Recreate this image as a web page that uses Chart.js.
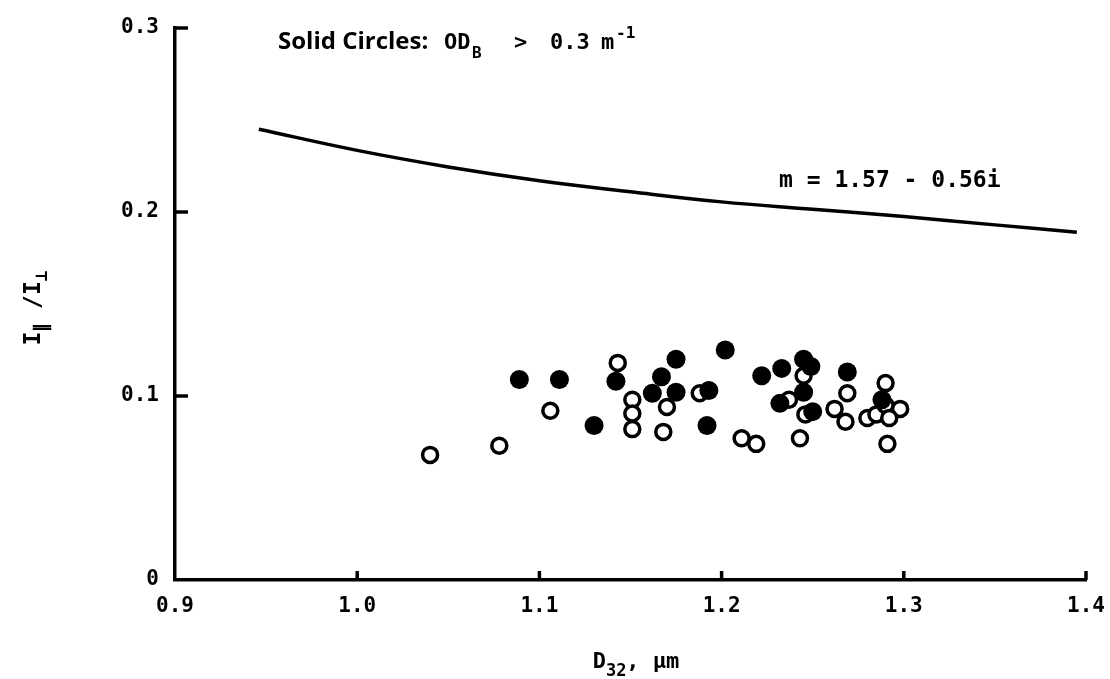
<!DOCTYPE html>
<html>
<head>
<meta charset="utf-8">
<script src="https://cdn.jsdelivr.net/npm/chart.js@4/dist/chart.umd.min.js"></script>
<style>
  html, body { margin: 0; padding: 0; background: #fff; }
  #wrap { width: 1110px; height: 679px; position: relative; }
</style>
</head>
<body>
<div id="wrap"><canvas id="chart" width="1110" height="679"></canvas></div>
<script>
// Polarization ratio vs. Sauter mean diameter

// axis ticks
const xTicks = [0.9, 1.0, 1.1, 1.2, 1.3, 1.4];
const yTicks = [0, 0.1, 0.2, 0.3];

// theory curve, m = 1.57 - 0.56i
const curveX = [0.946, 1.0, 1.05, 1.1, 1.15, 1.2, 1.25, 1.3, 1.35, 1.395];
const curveY = [0.245, 0.2335, 0.2245, 0.217, 0.211, 0.2055, 0.2015, 0.1975, 0.193, 0.189];

// solid circles (OD_B > 0.3 m^-1)
const solidX = [1.089, 1.111, 1.130, 1.142, 1.167, 1.162, 1.175, 1.175, 1.193, 1.192,
                1.202, 1.222, 1.233, 1.245, 1.249, 1.245, 1.232, 1.250, 1.269, 1.288];
const solidY = [0.109, 0.109, 0.084, 0.108, 0.1105, 0.1015, 0.102, 0.120, 0.103, 0.084,
                0.125, 0.111, 0.115, 0.120, 0.116, 0.102, 0.096, 0.0915, 0.113, 0.098];

// open circles
const openX = [1.040, 1.078, 1.106, 1.143, 1.151, 1.151, 1.151, 1.170, 1.168, 1.188,
               1.211, 1.219, 1.245, 1.237, 1.246, 1.243, 1.269, 1.262, 1.268, 1.290,
               1.280, 1.285, 1.290, 1.298, 1.292, 1.291];
const openY = [0.068, 0.073, 0.092, 0.118, 0.098, 0.0905, 0.082, 0.094, 0.0805, 0.1015,
               0.077, 0.074, 0.111, 0.098, 0.090, 0.077, 0.1015, 0.093, 0.086, 0.107,
               0.088, 0.090, 0.095, 0.093, 0.088, 0.074];

const toPts = (xs, ys) => xs.map((x, i) => ({ x: x, y: ys[i] }));

const MONO = '"DejaVu Sans Mono", monospace';

// draws inward tick marks and the text annotations
const decorPlugin = {
  id: 'decor',
  afterDraw(chart) {
    const ctx = chart.ctx;
    const xs = chart.scales.x, ys = chart.scales.y;
    const area = chart.chartArea;
    ctx.save();
    ctx.strokeStyle = '#000';
    ctx.lineWidth = 3.5;
    ctx.lineCap = 'butt';
    yTicks.forEach(v => {
      if (v === 0) return;
      const py = ys.getPixelForValue(v);
      ctx.beginPath();
      ctx.moveTo(area.left, py);
      ctx.lineTo(area.left + 13, py);
      ctx.stroke();
    });
    xTicks.forEach(v => {
      if (v === 0.9) return;
      const px = xs.getPixelForValue(v);
      ctx.beginPath();
      ctx.moveTo(px, area.bottom);
      ctx.lineTo(px, area.bottom - 9);
      ctx.stroke();
    });

    ctx.fillStyle = '#000';
    ctx.textBaseline = 'alphabetic';
    ctx.textAlign = 'left';

    // write a run of text pieces from x
    const run = (parts, x, y) => {
      parts.forEach(p => {
        ctx.font = p.f;
        ctx.fillText(p.t, x, y + (p.dy || 0));
        x += ctx.measureText(p.t).width;
      });
      return x;
    };
    const runWidth = parts => parts.reduce((w, p) => { ctx.font = p.f; return w + ctx.measureText(p.t).width; }, 0);

    // legend note, pieces placed like the typed original
    const note = [
      ['Solid Circles:', 'bold 24px "Open Sans"', 278, 0],
      ['OD', 'bold 22px ' + MONO, 444, 0],
      ['B', 'bold 16px ' + MONO, 472, 9],
      ['>', 'bold 22px ' + MONO, 514, 0],
      ['0.3', 'bold 22px ' + MONO, 550, 0],
      ['m', 'bold 22px ' + MONO, 601, 0],
      ['-1', 'bold 16px ' + MONO, 616, -11]
    ];
    note.forEach(([t, f, x, dy]) => { ctx.font = f; ctx.fillText(t, x, 49 + dy); });

    run([{ t: 'm = 1.57 - 0.56i', f: 'bold 23px ' + MONO }], 779, 187);

    // x title
    const xt = [
      { t: 'D', f: 'bold 22px ' + MONO },
      { t: '32', f: 'bold 17px ' + MONO, dy: 8 },
      { t: ', \u00b5m', f: 'bold 22px ' + MONO }
    ];
    run(xt, 636 - runWidth(xt) / 2, 668);

    // y title, rotated
    const yt = [
      { t: 'I', f: 'bold 23px ' + MONO },
      { t: '\u2225', f: 'bold 18px ' + MONO, dy: 7 },
      { t: ' /I', f: 'bold 23px ' + MONO },
      { t: '\u22a5', f: 'bold 18px ' + MONO, dy: 7 }
    ];
    ctx.translate(40, 308);
    ctx.rotate(-Math.PI / 2);
    run(yt, -runWidth(yt) / 2, 0);
    ctx.restore();
  }
};

new Chart(document.getElementById('chart'), {
  type: 'scatter',
  data: {
    datasets: [
      {
        label: 'm = 1.57 - 0.56i',
        type: 'line',
        data: toPts(curveX, curveY),
        borderColor: '#000',
        borderWidth: 3.5,
        pointRadius: 0,
        tension: 0.4,
        fill: false,
        order: 3
      },
      {
        label: 'open',
        data: toPts(openX, openY),
        pointRadius: 7.5,
        borderWidth: 3.5,
        borderColor: '#000',
        backgroundColor: '#fff',
        order: 2
      },
      {
        label: 'solid',
        data: toPts(solidX, solidY),
        pointRadius: 9.5,
        borderWidth: 0,
        borderColor: '#000',
        backgroundColor: '#000',
        order: 1
      }
    ]
  },
  options: {
    responsive: false,
    animation: false,
    layout: { padding: { left: 0, right: 24, top: 28, bottom: 0 } },
    plugins: {
      legend: { display: false },
      tooltip: { enabled: false }
    },
    scales: {
      x: {
        type: 'linear',
        min: 0.9,
        max: 1.4,
        afterFit: s => { s.height = 99; s.paddingLeft = 0; s.paddingRight = 0; },
        afterBuildTicks: s => { s.ticks = xTicks.map(v => ({ value: v })); },
        border: { display: true, color: '#000', width: 3.5 },
        grid: { display: true, drawOnChartArea: false, drawTicks: false },
        ticks: {
          padding: 14,
          color: '#000',
          font: { family: MONO, size: 21, weight: 'bold' },
          callback: v => v.toFixed(1)
        }
      },
      y: {
        type: 'linear',
        min: 0,
        max: 0.3,
        afterFit: s => { s.width = 175; s.paddingTop = 0; s.paddingBottom = 0; },
        afterBuildTicks: s => { s.ticks = yTicks.map(v => ({ value: v })); },
        border: { display: true, color: '#000', width: 3.5 },
        grid: { display: true, drawOnChartArea: false, drawTicks: false },
        ticks: {
          padding: 16,
          color: '#000',
          font: { family: MONO, size: 21, weight: 'bold' },
          callback: v => (v === 0 ? '0' : v.toFixed(1))
        }
      }
    }
  },
  plugins: [decorPlugin]
});
</script>
</body>
</html>
